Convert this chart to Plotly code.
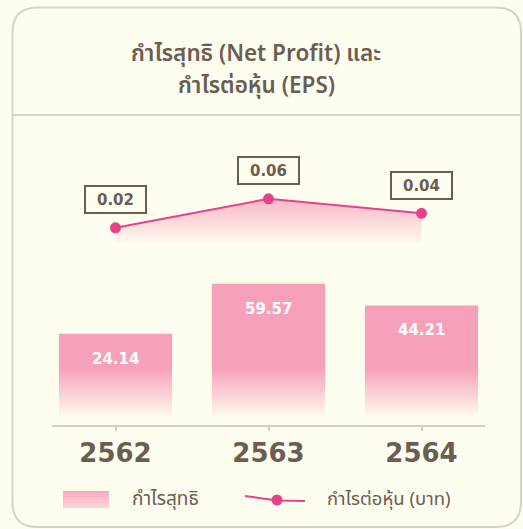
import plotly.graph_objects as go

# ---- data ----
years = ["2562", "2563", "2564"]
net_profit = [24.14, 59.57, 44.21]
eps = [0.02, 0.06, 0.04]
eps_labels = ["0.02", "0.06", "0.04"]
net_profit_labels = ["24.14", "59.57", "44.21"]
title_lines = ["กำไรสุทธิ (Net Profit) และ", "กำไรต่อหุ้น (EPS)"]
legend_names = ["กำไรสุทธิ", "กำไรต่อหุ้น (บาท)"]

# ---- style ----
W, H = 523, 529
BG = "#FEFEF0"
BROWN = "#6B5D53"
PINK = "247,160,185"
LINE_PINK = "#E8418A"
AXIS = "#D9CEBF"
CARD = "#DAD2C4"
THAI = "Noto Sans Thai, Noto Sans, DejaVu Sans, sans-serif"
NUM = "DejaVu Sans, Verdana, sans-serif"

def px(x):
    return x / W

def py(y):
    return 1 - y / H

Y_RANGE = [-40.8, 176.1]
Y2_RANGE = [-0.252, 0.1687]
BAR_W = 0.74
X_RANGE = [-0.415, 2.415]

fig = go.Figure()

# bars as gradient-filled polygons
for i, v in enumerate(net_profit):
    fig.add_trace(go.Scatter(
        x=[i - BAR_W / 2, i + BAR_W / 2, i + BAR_W / 2, i - BAR_W / 2, i - BAR_W / 2],
        y=[Y_RANGE[0], Y_RANGE[0], v, v, Y_RANGE[0]],
        mode="lines", line=dict(width=0, color=f"rgba({PINK},1)"),
        fill="toself",
        fillgradient=dict(type="vertical",
                          colorscale=[[0, f"rgba({PINK},0)"], [0.25, f"rgba({PINK},0.25)"], [1, f"rgba({PINK},1)"]],
                          start=-36, stop=0),
        name=legend_names[0], showlegend=False,
        hoverinfo="skip", xaxis="x", yaxis="y",
    ))

# EPS area
fig.add_trace(go.Scatter(
    x=list(range(len(eps))), y=eps, mode="none", fill="tozeroy",
    fillgradient=dict(type="vertical",
                      colorscale=[[0, f"rgba({PINK},0)"], [1, f"rgba({PINK},0.75)"]],
                      start=-0.005, stop=0.06),
    showlegend=False, hoverinfo="skip", yaxis="y2",
))
# EPS line
fig.add_trace(go.Scatter(
    x=list(range(len(eps))), y=eps, mode="lines+markers",
    line=dict(color=LINE_PINK, width=2), marker=dict(color=LINE_PINK, size=11),
    name=legend_names[1], showlegend=False, yaxis="y2",
))

annotations = []
for i, (v, t) in enumerate(zip(net_profit, net_profit_labels)):
    annotations.append(dict(x=i, y=v, xref="x", yref="y", text=t, showarrow=False,
                            yshift=-25, font=dict(family=NUM, size=15, color="white", weight="bold")))
for i, (v, t) in enumerate(zip(eps, eps_labels)):
    annotations.append(dict(x=i, y=v, xref="x", yref="y2", text=t, showarrow=False,
                            yshift=28, width=53, height=19, borderpad=3, borderwidth=2,
                            bordercolor=BROWN, bgcolor=BG,
                            font=dict(family=NUM, size=15, color=BROWN, weight="bold")))

# title (two lines)
for t, yc in zip(title_lines, [54, 86]):
    annotations.append(dict(x=px(256), y=py(yc), xref="paper", yref="paper", text=t,
                            showarrow=False, xanchor="center", yanchor="middle", height=30,
                            font=dict(family=THAI, size=22.5, color=BROWN, weight=600)))

# manual legend texts
annotations.append(dict(x=px(130), y=py(499), xref="paper", yref="paper", text=legend_names[0],
                        showarrow=False, xanchor="left", yanchor="middle",
                        font=dict(family=THAI, size=19, color=BROWN)))
annotations.append(dict(x=px(325), y=py(499), xref="paper", yref="paper", text=legend_names[1],
                        showarrow=False, xanchor="left", yanchor="middle",
                        font=dict(family=THAI, size=18.5, color=BROWN)))

# card frame (rounded rectangle) and divider
x0, x1, y0, y1, r = 12.5, 521, 7.5, 527, 25
path = (f"M {px(x0)},{py(y0 + r)} Q {px(x0)},{py(y0)} {px(x0 + r)},{py(y0)} "
        f"L {px(x1 - r)},{py(y0)} Q {px(x1)},{py(y0)} {px(x1)},{py(y0 + r)} "
        f"L {px(x1)},{py(y1 - r)} Q {px(x1)},{py(y1)} {px(x1 - r)},{py(y1)} "
        f"L {px(x0 + r)},{py(y1)} Q {px(x0)},{py(y1)} {px(x0)},{py(y1 - r)} Z")
shapes = [
    dict(type="path", xref="paper", yref="paper", path=path,
         line=dict(color=CARD, width=2), fillcolor="rgba(0,0,0,0)", layer="below"),
    dict(type="line", xref="paper", yref="paper", x0=px(x0), x1=px(x1), y0=py(115), y1=py(115),
         line=dict(color=CARD, width=2), layer="below"),
]

# legend swatch: gradient rectangle built from thin strips
sw_x0, sw_x1, sw_y0, sw_y1 = 63, 109, 491, 508
n_strips = 8
for k in range(n_strips):
    a = 0.95 - 0.5 * k / (n_strips - 1)
    ya = sw_y0 + (sw_y1 - sw_y0) * k / n_strips
    yb = sw_y0 + (sw_y1 - sw_y0) * (k + 1) / n_strips
    shapes.append(dict(type="rect", xref="paper", yref="paper",
                       x0=px(sw_x0), x1=px(sw_x1), y0=py(ya), y1=py(yb),
                       line=dict(width=0), fillcolor=f"rgba({PINK},{a:.2f})"))
# legend line symbol
shapes.append(dict(type="path", xref="paper", yref="paper",
                   path=f"M {px(245)},{py(496)} L {px(277)},{py(500.5)} L {px(305)},{py(501)}",
                   line=dict(color=LINE_PINK, width=2)))
shapes.append(dict(type="circle", xref="paper", yref="paper",
                   x0=px(271.5), x1=px(282.5), y0=py(494.5), y1=py(505.5),
                   line=dict(width=0), fillcolor=LINE_PINK))

fig.update_layout(
    width=W, height=H,
    margin=dict(l=0, r=0, t=0, b=0, autoexpand=False),
    paper_bgcolor=BG, plot_bgcolor="rgba(0,0,0,0)",
    xaxis=dict(domain=[px(52), px(485)], range=X_RANGE, tickvals=[0, 1, 2], ticktext=years,
               showline=True, linecolor=AXIS, linewidth=2, ticks="outside", ticklen=4,
               tickcolor=AXIS, tickwidth=1.5, showgrid=False, zeroline=False,
               tickfont=dict(family=NUM, size=26, color=BROWN, weight="bold"), fixedrange=True),
    yaxis=dict(domain=[py(425), py(120)], range=Y_RANGE, visible=False, showgrid=False, zeroline=False),
    yaxis2=dict(domain=[py(425), py(120)], range=Y2_RANGE, overlaying="y", visible=False,
                showgrid=False, zeroline=False),
    showlegend=False,
    annotations=annotations, shapes=shapes,
)

fig.write_html("out.html", config={"displayModeBar": False},
               post_script="document.body.style.margin='0px';document.body.style.overflow='hidden';")
